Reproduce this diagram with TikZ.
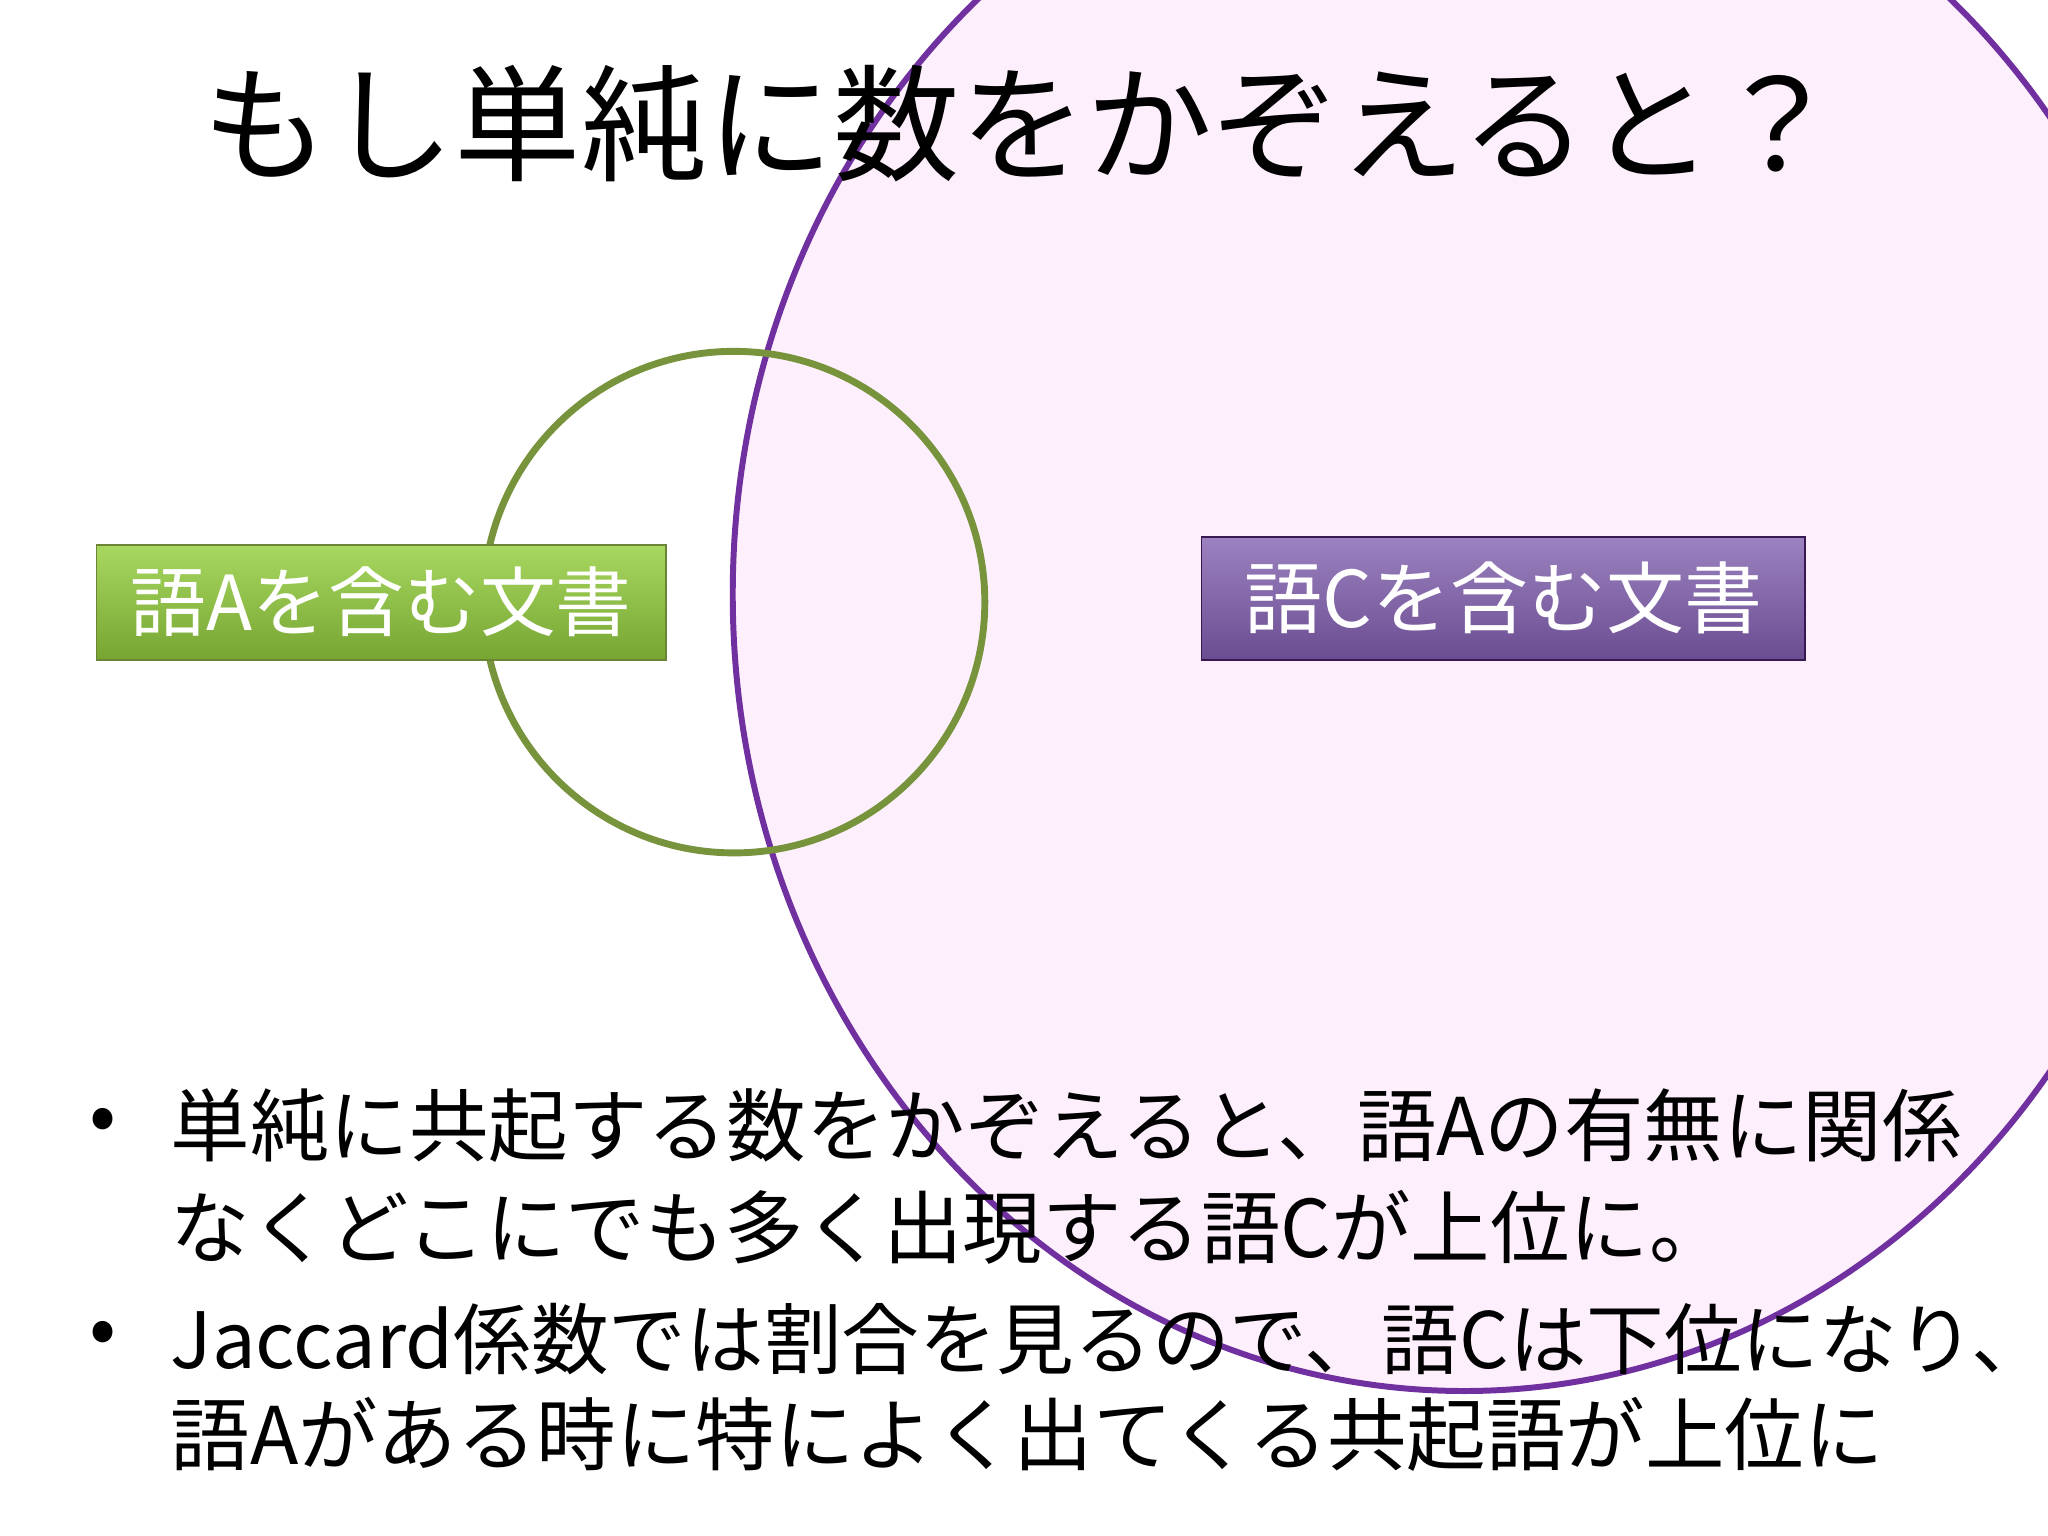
\documentclass[tikz,border=0pt]{standalone}
\usepackage{fontspec}
\setmainfont{Noto Sans CJK JP}
\usetikzlibrary{shadows}
\definecolor{gline}{HTML}{77933C}
\definecolor{pline}{HTML}{7030A0}
\definecolor{pfill}{HTML}{FDF0FC}
\definecolor{ptop}{HTML}{9C82C0}
\definecolor{pbot}{HTML}{6A4D91}
\definecolor{gtop}{HTML}{A8D860}
\definecolor{gbot}{HTML}{76A532}
\tikzset{
  lbl/.style={anchor=west,font=\fontsize{17.3}{20}\selectfont,inner sep=0pt},
  boxg/.style={draw=gline!90!black,top color=gtop,bottom color=gbot,text=white,minimum height=0.88cm,inner sep=0pt,font=\fontsize{16.5}{18}\selectfont},
  boxp/.style={draw=pline!50!black,top color=ptop,bottom color=pbot,text=white,minimum height=0.94cm,inner sep=0pt,font=\fontsize{17}{18}\selectfont}
}
\begin{document}
\begin{tikzpicture}[yscale=-1,x=0.01cm,y=0.01cm]
\useasboundingbox (0,0) rectangle (1568,1176);
\begin{scope}
\clip (0,0) rectangle (1568,1176);
\draw[pline,line width=1.3pt,fill=pfill] (1121,455) ellipse [x radius=560,y radius=610];
\end{scope}
\draw[gline,line width=1.5pt] (562,461) circle [radius=192];
\node[font=\fontsize{27.5}{30}\selectfont] (title) at (782,95) {もし単純に数をかぞえると？};
\node[boxg,minimum width=4.36cm] (ba) at (292,461) {語Aを含む文書};
\node[boxp,minimum width=4.62cm] (bc) at (1151,458) {語Cを含む文書};
\node[lbl] (d1) at (68,862) {•};
\node[lbl] (l1) at (130,862) {単純に共起する数をかぞえると、語Aの有無に関係};
\node[lbl] (l2) at (130,940) {なくどこにでも多く出現する語Cが上位に。};
\node[lbl] (d2) at (68,1025) {•};
\node[lbl,font=\fontsize{16.9}{20}\selectfont] (l3) at (130,1025) {Jaccard係数では割合を見るので、語Cは下位になり、};
\node[lbl] (l4) at (130,1098) {語Aがある時に特によく出てくる共起語が上位に};
\end{tikzpicture}
\end{document}
